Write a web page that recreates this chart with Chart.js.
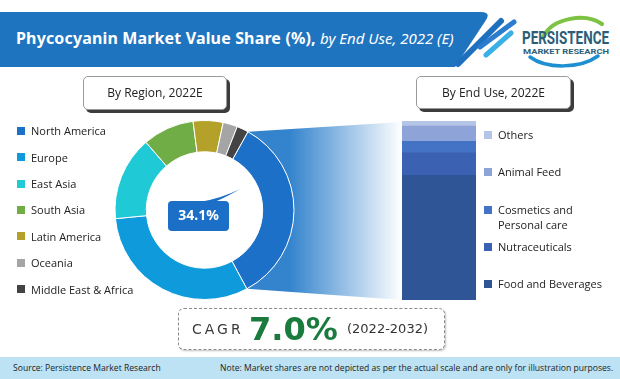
<!DOCTYPE html>
<html><head><meta charset="utf-8">
<script src="https://cdn.jsdelivr.net/npm/chart.js@4/dist/chart.umd.min.js"></script>
<style>
html,body{margin:0;padding:0;background:#fff;}
#page{position:relative;width:620px;height:379px;overflow:hidden;font-family:"Open Sans",sans-serif;color:#222;}
.abs{position:absolute;}
#title{left:16px;top:27px;line-height:22px;color:#fff;font-family:"Noto Sans",sans-serif;font-size:16px;white-space:nowrap;}
#title b{font-weight:700;letter-spacing:0.15px;}
#title i{font-weight:400;font-size:15px;}
.hbox{background:#fff;border:1px solid #9a9a9a;border-radius:5px;box-shadow:3px 3px 0 #3c3c3c;text-align:center;font-size:12px;color:#222;box-sizing:border-box;}
.leg{font-size:11px;color:#222;white-space:nowrap;}
.leg .it{position:absolute;left:0;display:flex;align-items:center;height:16px;}
.leg .sw{width:8px;height:8px;margin-right:6px;flex:none;}
#cagr{left:178px;top:308px;width:267px;height:42px;border:1px dashed #8a8a8a;border-radius:6px;box-shadow:1px 1px 2px rgba(0,0,0,0.25);box-sizing:border-box;background:#fff;}
#cagr span{position:absolute;top:0;line-height:40px;white-space:nowrap;font-family:"DejaVu Sans",sans-serif;color:#333;}
.foot{top:360px;line-height:16px;font-size:8.6px;color:#222;white-space:nowrap;}
</style></head><body>
<div id="page">
<svg class="abs" width="620" height="379" style="left:0;top:0">
  <path d="M0,12 H481 Q491,12 486,20 L455,67 H0 Z" fill="#1F74BF"/>
  <line x1="458" y1="64" x2="501" y2="21" stroke="#1F6FBF" stroke-width="6" stroke-linecap="round"/>
  <line x1="480" y1="47" x2="514" y2="22" stroke="#2A7CCE" stroke-width="5" stroke-linecap="round"/>
  <line x1="486" y1="55" x2="511" y2="33" stroke="#3BB0E6" stroke-width="5" stroke-linecap="round"/>
  <path d="M543,37 C553,17 586,13 602,24" fill="none" stroke="#7DC242" stroke-width="4" stroke-linecap="round"/>
  <path d="M530,57 C546,69 580,69 598,56" fill="none" stroke="#1E8FD0" stroke-width="3.5" stroke-linecap="round"/>
  <text x="522" y="44" textLength="87" lengthAdjust="spacingAndGlyphs" font-family="Roboto" font-weight="700" font-size="18" fill="#2D5E78">PERSISTENCE</text>
  <text x="523" y="53.5" textLength="86" lengthAdjust="spacingAndGlyphs" font-family="Roboto" font-weight="700" font-size="7" fill="#2D5E78">MARKET RESEARCH</text>
  <rect x="0" y="357" width="620" height="22" fill="#BDE2F4"/>
</svg>
<div id="title" class="abs"><b>Phycocyanin Market Value Share (%),</b> <i>by End Use, 2022 (E)</i></div>

<canvas id="donut" class="abs" width="620" height="220" style="left:0;top:100px"></canvas>
<canvas id="bar" class="abs" width="74" height="179" style="left:402px;top:121px"></canvas>

<div class="abs hbox" style="left:83px;top:76px;width:144px;height:34px;line-height:32px;">By Region, 2022E</div>
<div class="abs hbox" style="left:416px;top:76px;width:155px;height:33px;line-height:31px;">By End Use, 2022E</div>

<div id="legL" class="abs leg" style="left:17px;top:0;"></div>
<div id="legR" class="abs leg" style="left:484px;top:0;"></div>

<div id="cagr" class="abs">
  <span style="left:13px;font-size:14px;letter-spacing:3px;color:#3a3a3a;">CAGR</span>
  <span style="left:70px;font-size:32px;font-weight:700;color:#1B7A3E;line-height:41px;">7.0%</span>
  <span style="left:168px;font-size:13px;color:#333;">(2022-2032)</span>
</div>

<div class="abs foot" style="left:13px;">Source: Persistence Market Research</div>
<div class="abs foot" style="left:220px;">Note: Market shares are not depicted as per the actual scale and are only for illustration purposes.</div>
</div>

<script>
// ---- Data ----
const regionLabels = ["North America", "Europe", "East Asia", "South Asia", "Latin America", "Oceania", "Middle East & Africa"];
const regionShares = [34.1, 31.3, 15.2, 9.3, 5.4, 2.6, 2.1];
const regionColors = ["#1C70C8", "#0E9ADB", "#1FC9D6", "#70AD47", "#B4A12A", "#A5A5A5", "#444444"];

const endUseLabels = ["Food and Beverages", "Nutraceuticals", "Cosmetics and Personal care", "Animal Feed", "Others"];
const endUseShares = [69.7, 12.5, 6.5, 8.5, 2.8];
const endUseColors = ["#2F5597", "#3A61B2", "#4472C4", "#8EA3D8", "#B4C5E7"];
const endUseLegendLines = [["Food and Beverages"], ["Nutraceuticals"], ["Cosmetics and", "Personal care"], ["Animal Feed"], ["Others"]];

// ---- Legends (HTML) ----
const legL = document.getElementById('legL');
regionLabels.forEach((l, i) => {
  const d = document.createElement('div');
  d.className = 'it';
  d.style.top = (122.7 + i * 26.4) + 'px';
  d.innerHTML = '<span class="sw" style="background:' + regionColors[i] + '"></span><span>' + l.replace('&', '&amp;') + '</span>';
  legL.appendChild(d);
});
const legR = document.getElementById('legR');
const rOrder = [4, 3, 2, 1, 0];
rOrder.forEach((idx, k) => {
  const d = document.createElement('div');
  d.className = 'it';
  d.style.top = (127 + k * 37.3) + 'px';
  d.style.alignItems = 'flex-start';
  d.style.height = 'auto';
  d.innerHTML = '<span class="sw" style="background:' + endUseColors[idx] + ';margin-top:4px"></span><span style="line-height:15px">' + endUseLegendLines[idx].join('<br>') + '</span>';
  legR.appendChild(d);
});

// ---- Bar chart ----
const barChart = new Chart(document.getElementById('bar'), {
  type: 'bar',
  data: {
    labels: ['2022E'],
    datasets: endUseLabels.map((l, i) => ({
      label: l, data: [endUseShares[i]], backgroundColor: endUseColors[i],
      borderWidth: 0, barPercentage: 1, categoryPercentage: 1
    }))
  },
  options: {
    responsive: false, animation: false,
    plugins: { legend: { display: false }, tooltip: { enabled: false } },
    scales: { x: { display: false, stacked: true }, y: { display: false, stacked: true, min: 0, max: 100 } },
    layout: { padding: 0 }
  }
});

// ---- Doughnut ----
const funnelPlugin = {
  id: 'funnel',
  beforeDatasetsDraw(chart) {
    const ctx = chart.ctx;
    const arc = chart.getDatasetMeta(0).data[0];
    const p = arc.getProps(['x', 'y', 'outerRadius', 'startAngle', 'endAngle'], true);
    const dRect = chart.canvas.getBoundingClientRect();
    const bRect = barChart.canvas.getBoundingClientRect();
    const bA = barChart.chartArea;
    const bx = bRect.left - dRect.left + bA.left;
    const bt = bRect.top - dRect.top + bA.top;
    const bb = bRect.top - dRect.top + bA.bottom;
    ctx.save();
    ctx.beginPath();
    ctx.moveTo(p.x + p.outerRadius * Math.cos(p.startAngle), p.y + p.outerRadius * Math.sin(p.startAngle));
    ctx.lineTo(bx, bt + 1);
    ctx.lineTo(bx, bb);
    ctx.lineTo(p.x + p.outerRadius * Math.cos(p.endAngle), p.y + p.outerRadius * Math.sin(p.endAngle));
    ctx.arc(p.x, p.y, p.outerRadius, p.endAngle, p.startAngle, true);
    ctx.closePath();
    const g = ctx.createLinearGradient(p.x + p.outerRadius - 4, 0, bx, 0);
    g.addColorStop(0, '#3484CD');
    g.addColorStop(1, '#FFFFFF');
    ctx.fillStyle = g;
    ctx.fill();
    ctx.restore();
  },
  afterDatasetsDraw(chart) {
    const ctx = chart.ctx;
    const arc = chart.getDatasetMeta(0).data[0];
    const cx = arc.x, cy = arc.y;
    ctx.save();
    ctx.fillStyle = '#1B6FC6';
    ctx.beginPath();
    if (ctx.roundRect) ctx.roundRect(cx - 36.5, cy - 9, 61, 30, 4); else ctx.rect(cx - 36.5, cy - 9, 61, 30);
    ctx.fill();
    ctx.beginPath();
    ctx.moveTo(cx - 5, cy - 8);
    ctx.quadraticCurveTo(cx + 18, cy - 12, cx + 35.5, cy - 21);
    ctx.quadraticCurveTo(cx + 22, cy - 13, cx + 10, cy - 8);
    ctx.closePath();
    ctx.fill();
    ctx.fillStyle = '#fff';
    ctx.font = 'bold 14px "Noto Sans", sans-serif';
    ctx.textAlign = 'center';
    ctx.textBaseline = 'middle';
    ctx.fillText(regionShares[0].toFixed(1) + '%', cx - 6, cy + 6.5);
    ctx.restore();
  }
};

new Chart(document.getElementById('donut'), {
  type: 'doughnut',
  data: {
    labels: regionLabels,
    datasets: [{ data: regionShares, backgroundColor: regionColors, borderColor: '#ffffff', borderWidth: 1 }]
  },
  options: {
    responsive: false, animation: false,
    rotation: 29, cutout: '65%',
    layout: { padding: { left: 114, right: 325, top: 20, bottom: 20 } },
    plugins: { legend: { display: false }, tooltip: { enabled: false } }
  },
  plugins: [funnelPlugin]
});
</script>
</body></html>
